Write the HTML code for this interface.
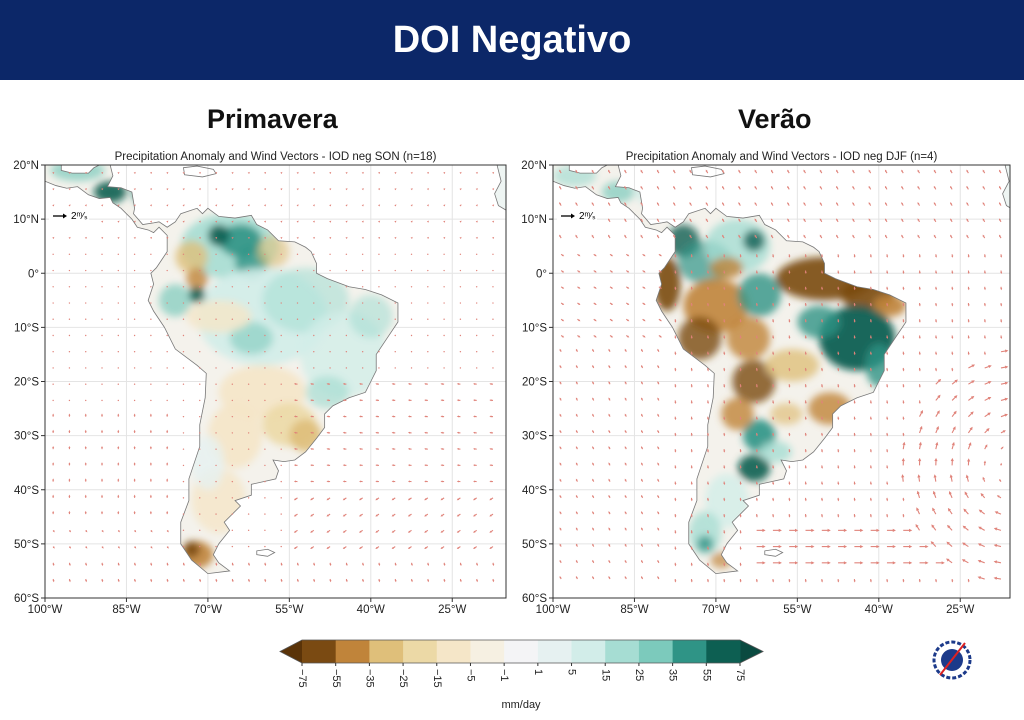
<!DOCTYPE html>
<html><head><meta charset="utf-8"><style>
body{margin:0;width:1024px;height:720px;background:#fff;overflow:hidden;font-family:"Liberation Sans",sans-serif}
#hdr{position:absolute;left:0;top:0;width:1024px;height:80px;background:#0c2768;color:#fff;font-weight:bold;font-size:38px;text-align:center;line-height:80px}
.sub{position:absolute;top:104px;font-weight:bold;font-size:27px;color:#111}
</style></head><body>
<div id="hdr">DOI Negativo</div>
<div class="sub" style="left:207px">Primavera</div>
<div class="sub" style="left:738px">Verão</div>
<svg id="s" width="1024" height="720" style="position:absolute;left:0;top:0" font-family="Liberation Sans, sans-serif"></svg>
<script>
const NS="http://www.w3.org/2000/svg";const S=document.getElementById('s');
function el(t,a,p){const e=document.createElementNS(NS,t);for(const k in a)e.setAttribute(k,a[k]);(p||S).appendChild(e);return e;}
const coast=[[-77.5,8.5],[-76,9.5],[-75,11],[-72,12],[-71,11],[-70,12],[-68,10.5],[-65,10.2],[-62,10.7],[-61,9],[-59,8],[-57,6],[-54,5.8],[-52,4.8],[-51,4],[-50,1.8],[-50,0],[-48,-1],[-44,-2.5],[-41,-3],[-38,-4],[-35,-5.5],[-35,-9],[-37,-12],[-39,-15],[-39,-18],[-40,-20],[-41,-22],[-44,-23],[-47,-24.5],[-48.5,-26],[-48.5,-28.5],[-50,-30.5],[-52,-33],[-54,-34.5],[-56,-34.8],[-58,-34.5],[-57,-36.5],[-57.5,-38],[-62,-39],[-62,-41],[-65,-42],[-64,-43],[-67,-46],[-66,-47.5],[-68,-50],[-69,-52],[-68,-53.5],[-66,-55],[-70,-55.5],[-73,-53],[-75,-50],[-75,-46],[-73.5,-42],[-73.5,-38],[-71.5,-32],[-71.5,-28],[-70.5,-23],[-70.3,-18.5],[-72,-17],[-76,-14],[-78,-10],[-80,-7],[-81,-5],[-80,-2],[-80.5,0],[-79.5,1],[-78.5,2.5],[-77.5,4],[-77.5,7],[-79,8.5],[-80,7.5],[-81,8],[-83,8.5],[-84,10],[-86,12],[-87.5,13],[-88,14],[-90,13.8],[-92,14.5],[-94,16],[-96,15.7],[-98,16.2],[-100,17],[-100,20],[-97,20],[-97,19],[-95,18.5],[-92,18.5],[-91,19.5],[-90,20],[-88,20],[-87.5,18],[-88.5,16],[-86,15.8],[-84,15],[-83.5,12],[-83.7,11],[-82,9],[-80,9.3],[-79,9.5]];
const cuba=[[-85,21.8],[-82,20.5],[-78,20],[-74.5,20.2],[-77,20.8],[-80,21.2],[-84,22.5]];
const hisp=[[-74.5,19.5],[-72,19.8],[-69,19.2],[-68.5,18.4],[-71,17.8],[-74.3,18.2]];
const afr=[[-14,21],[-17,21],[-16.5,19],[-16,17],[-17.2,14.7],[-16.5,12.5],[-14,11]];
const falk=[[-61,-51.3],[-59,-51],[-57.7,-51.6],[-59,-52.3],[-61,-52]];
const left=[
 [-80,15,4,3,'#2f9486',.8],[-88,15,3,2,'#0d5f52',.9],[-94,19,5,2,'#7ccabc',.7],
 [-66,5,9,6,'#a6ddd3',.9],[-64,6,4,3,'#2f9486',.9],[-62,2,3,3,'#2f9486',.8],[-68,7,2,2,'#0d5f52',.9],
 [-73,3,3,3,'#dfbf7a',.8],[-72,-1,2,2,'#c0843a',.8],[-58,4,3,3,'#dfbf7a',.6],
 [-60,-8,12,9,'#d2ede9',.9],[-52,-5,8,6,'#a6ddd3',.6],[-45,-15,8,8,'#d2ede9',.8],[-40,-8,4,4,'#a6ddd3',.6],
 [-76,-5,3,3,'#7ccabc',.7],[-72,-4,1.5,1.5,'#0d5f52',.9],[-62,-12,4,3,'#7ccabc',.6],
 [-68,-8,6,3,'#f5e6c8',.8],[-60,-22,8,5,'#f5e6c8',.9],[-55,-28,5,4,'#ecd9a6',.9],[-52,-30,3,3,'#dfbf7a',.9],
 [-65,-30,5,6,'#f5e6c8',.9],[-68,-42,5,6,'#f5e6c8',.8],[-72,-52,3,2.5,'#c0843a',.9],[-73,-51,1.5,1.5,'#7a4a12',.9],
 [-48,-22,4,3,'#a6ddd3',.7],[-70,-35,3,5,'#e6f1f1',.8]];
const right=[
 [-80,15,5,3,'#d2ede9',.8],[-88,15,3,2,'#7ccabc',.7],[-96,18,4,2,'#a6ddd3',.7],
 [-76,6,3,3,'#0d5f52',.8],[-79,-2,2.5,5,'#7a4a12',.9],[-72,2,5,4,'#2f9486',.7],
 [-66,5,6,5,'#a6ddd3',.8],[-63,6,2,2,'#0d5f52',.8],[-68,1,3,2,'#c0843a',.8],
 [-50,-1,9,4,'#7a4a12',.9],[-42,-4,5,3,'#7a4a12',.9],[-38,-6,3,2,'#c0843a',.9],
 [-70,-6,6,5,'#c0843a',.9],[-73,-12,4,4,'#7a4a12',.8],[-62,-4,4,4,'#2f9486',.8],[-64,-12,4,4,'#c0843a',.8],
 [-44,-12,7,6,'#0d5f52',.95],[-51,-9,4,3,'#2f9486',.8],[-40,-17,2.5,4,'#2f9486',.8],
 [-63,-20,4,4,'#7a4a12',.8],[-56,-17,5,3,'#dfbf7a',.8],[-49,-25,4,3,'#c0843a',.8],[-57,-26,3,2,'#dfbf7a',.7],
 [-62,-30,3,3,'#2f9486',.9],[-63,-36,3,2.5,'#0d5f52',.9],[-66,-26,3,3,'#c0843a',.8],[-68,-42,4,5,'#d2ede9',.8],
 [-72,-48,3,4,'#a6ddd3',.8],[-72,-50,1.5,1.5,'#2f9486',.8],[-69,-53,2,1.5,'#c0843a',.7],[-59,-33,3,2,'#a6ddd3',.8]];
function P(pts){return 'M'+pts.map(p=>p[0]+','+p[1]).join('L')+'Z';}
const AC='#e0837a';
function arrow(g,px,py,ex,ey){
  const L=Math.hypot(ex-px,ey-py);if(L<1){el('circle',{cx:px,cy:py,r:.7,fill:AC},g);return;}
  const ux=(ex-px)/L,uy=(ey-py)/L,h=Math.min(3.2,Math.max(2,L*.5));
  el('line',{x1:px,y1:py,x2:ex-ux*h*.6,y2:ey-uy*h*.6,stroke:AC,'stroke-width':1.1},g);
  el('path',{d:`M${ex},${ey}L${ex-ux*h-uy*h*.5},${ey-uy*h+ux*h*.5}L${ex-ux*h+uy*h*.5},${ey-uy*h-ux*h*.5}Z`,fill:AC},g);
}
function map(x0,x1,title,blobs,big){
 const y0=165,y1=598,sx=5.43,sy=(y1-y0)/80;
 const id='m'+x0;
 const d=el('defs',{});
 const cp=el('clipPath',{id:id+'c'},d);el('path',{d:P(coast)},cp);
 const cp2=el('clipPath',{id:id+'b'},d);el('rect',{x:x0,y:y0,width:x1-x0,height:y1-y0},cp2);
 const f=el('filter',{id:id+'f',x:'-50%',y:'-50%',width:'200%',height:'200%'},d);el('feGaussianBlur',{stdDeviation:.7},f);
 const g0=el('g',{'clip-path':`url(#${id}b)`});
 for(let lo=-100;lo<=-10;lo+=15)el('line',{x1:x0+(lo+100)*sx,x2:x0+(lo+100)*sx,y1:y0,y2:y1,stroke:'#e4e4e4','stroke-width':1},g0);
 for(let la=20;la>=-60;la-=10)el('line',{x1:x0,x2:x1,y1:y0+(20-la)*sy,y2:y0+(20-la)*sy,stroke:'#e4e4e4','stroke-width':1},g0);
 const g=el('g',{transform:`translate(${x0+100*sx},${y0+20*sy}) scale(${sx},${-sy})`},g0);
 el('path',{d:P(coast),fill:'#f4f2ec'},g);
 el('path',{d:P(afr),fill:'#eef5f3'},g);
 const gb=el('g',{'clip-path':`url(#${id}c)`,filter:`url(#${id}f)`},g);
 blobs.forEach(b=>el('ellipse',{cx:b[0],cy:b[1],rx:b[2],ry:b[3],fill:b[4],opacity:b[5]},gb));
 [coast,cuba,hisp,afr,falk].forEach(c=>el('path',{d:P(c),fill:'none',stroke:'#777','stroke-width':.8,'vector-effect':'non-scaling-stroke'},g));
 for(let la=18.5;la>=-58;la-=3)for(let lo=-98.5;lo<=-15;lo+=3){
  let u,v,k;
  if(!big){k=4;
   if(la<-20&&lo>-55){u=-0.9;v=la<-40?-0.6:0.1;}
   else if(la<-25&&lo<-75){u=la<-45?0.4:0;v=la<-45?-0.5:0.8;}
   else if(la>5){u=0.3;v=0.3;} else {u=0.2;v=0.1;}
   if(la<-53){u=0.2;v=-0.8;}
  } else {k=5;
   const cx=-14,cy=-36,dx=lo-cx,dy=la-cy,r=Math.hypot(dx,dy);
   if(r<22&&lo>-45){const s=Math.min(1,r/10)*1.5;u=dy/r*s;v=-dx/r*s;}
   else if(la<-46&&la>-56&&lo>-65){u=1.8;v=0;}
   else if(la>5){u=-0.4;v=0.7;}
   else if(lo<-78){u=la>-12?0.6:-0.3;v=la>-12?-0.4:0.6;}
   else {u=0.1;v=-0.7;}
  }
  const px=x0+(lo+100)*sx,py=y0+(20-la)*sy;
  arrow(g0,px,py,px+u*k,py-v*k);
 }
 el('rect',{x:x0,y:y0,width:x1-x0,height:y1-y0,fill:'none',stroke:'#333','stroke-width':1});
 el('text',{x:(x0+x1)/2,y:160,'text-anchor':'middle','font-size':11.5,fill:'#222'}).textContent=title;
 const yl=['20°N','10°N','0°','10°S','20°S','30°S','40°S','50°S','60°S'];
 yl.forEach((t,i)=>{const y=y0+i*10*sy;el('line',{x1:x0-4,x2:x0,y1:y,y2:y,stroke:'#333'});el('text',{x:x0-6,y:y+4,'text-anchor':'end','font-size':11.5,fill:'#222'}).textContent=t;});
 const xl=['100°W','85°W','70°W','55°W','40°W','25°W'];
 xl.forEach((t,i)=>{const x=x0+i*15*sx;el('line',{x1:x,x2:x,y1:y1,y2:y1+4,stroke:'#333'});el('text',{x:x,y:y1+15,'text-anchor':'middle','font-size':11.5,fill:'#222'}).textContent=t;});
 el('rect',{x:x0+4,y:y0+42,width:40,height:18,fill:'#fff'});
 el('line',{x1:x0+8,x2:x0+20,y1:y0+51,y2:y0+51,stroke:'#000','stroke-width':1.3});
 el('path',{d:`M${x0+22},${y0+51}l-4,-2.5v5z`,fill:'#000'});
 el('text',{x:x0+26,y:y0+54,'font-size':10,fill:'#000'}).textContent='2ᵐ⁄ₛ';
}
map(45,506,'Precipitation Anomaly and Wind Vectors - IOD neg SON (n=18)',left,false);
map(553,1010,'Precipitation Anomaly and Wind Vectors - IOD neg DJF (n=4)',right,true);
const cols=['#7a4a12','#c0843a','#dfbf7a','#ecd9a6','#f5e6c8','#f6f0e2','#f4f4f6','#e6f1f1','#d2ede9','#a6ddd3','#7ccabc','#2f9486','#0d5f52'];
const labs=['−75','−55','−35','−25','−15','−5','−1','1','5','15','25','35','55','75'];
const cx0=302,cw=438/13,cy0=640,ch=23;
el('path',{d:`M280,651.5L${cx0},${cy0}V${cy0+ch}Z`,fill:'#5a3308'});
el('path',{d:`M763,651.5L740,${cy0}V${cy0+ch}Z`,fill:'#0a4a40'});
cols.forEach((c,i)=>el('rect',{x:cx0+i*cw,y:cy0,width:cw+.5,height:ch,fill:c}));
el('path',{d:`M280,651.5L${cx0},${cy0}H740L763,651.5L740,${cy0+ch}H${cx0}Z`,fill:'none',stroke:'#555','stroke-width':.8});
labs.forEach((t,i)=>{const x=cx0+i*cw;el('line',{x1:x,x2:x,y1:cy0+ch,y2:cy0+ch+3,stroke:'#333'});
 el('text',{x:x,y:cy0+ch+6,'font-size':11,fill:'#222',transform:`rotate(90 ${x} ${cy0+ch+6})`,'dominant-baseline':'middle'}).textContent=t;});
el('text',{x:521,y:708,'text-anchor':'middle','font-size':11,fill:'#222'}).textContent='mm/day';
el('circle',{cx:952,cy:660,r:18,fill:'#fff',stroke:'#1c3a8a','stroke-width':3,'stroke-dasharray':'4 2'});
el('circle',{cx:952,cy:660,r:11,fill:'#1c3a8a'});
el('line',{x1:940,y1:675,x2:965,y2:643,stroke:'#d22','stroke-width':2});
</script>
</body></html>
